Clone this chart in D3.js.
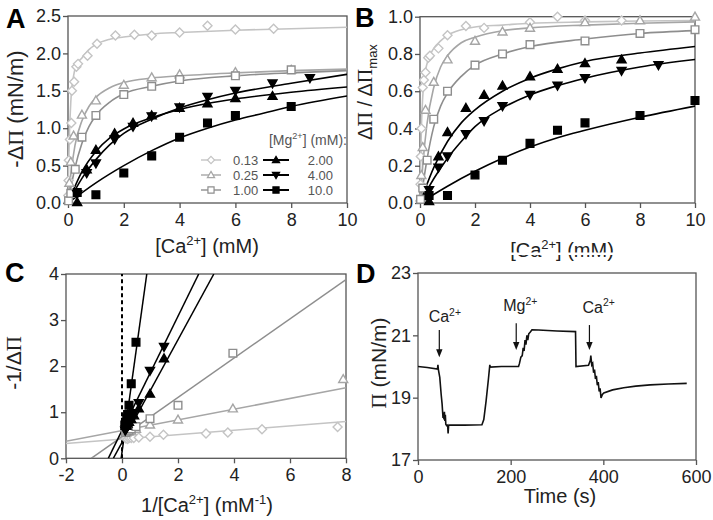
<!DOCTYPE html>
<html><head><meta charset="utf-8">
<script src="https://cdn.jsdelivr.net/npm/d3@7"></script>
<style>body{margin:0;background:#fff} text{font-family:"Liberation Sans",Arial,sans-serif;}</style>
</head><body><script>
// ---------- series definitions ----------
const seriesKeys   = ["0.13","0.25","1.00","2.00","4.00","10.0"];
const seriesColors = ["#c4c4c4","#a6a6a6","#8e8e8e","#000","#000","#000"];
const seriesShapes = ["diamond","triangle","square","triangle","triangleDown","square"];
const seriesFilled = [false,false,false,true,true,true];

// ---------- Panel A : -dPi vs [Ca] ----------
const a013 = [[0.01,0.1],[0.02,0.3],[0.03,0.57],[0.07,0.85],[0.12,1.07],[0.14,1.5],[0.22,1.62],[0.3,1.82],[0.36,1.86],[0.7,1.97],[1.04,2.13],[1.7,2.24],[2.38,2.25],[3.0,2.24],[4.0,2.28],[5.0,2.37],[6.0,2.32],[7.37,2.33]];
const a025 = [[0.02,0.05],[0.05,0.27],[0.1,0.55],[0.2,0.9],[0.5,1.18],[1.0,1.37],[2.0,1.58],[3.0,1.68],[4.0,1.72],[6.0,1.75],[8.0,1.78]];
const a100 = [[0.02,0.03],[0.1,0.13],[0.26,0.45],[0.5,0.88],[1.0,1.17],[2.0,1.45],[3.0,1.56],[4.0,1.65],[6.0,1.7],[8.0,1.78]];
const a200 = [[0.33,0.01],[0.67,0.45],[1.0,0.71],[1.67,0.93],[2.33,1.07],[3.0,1.17],[4.0,1.27],[5.0,1.33],[6.0,1.4],[7.33,1.43]];
const a400 = [[0.33,0.12],[0.67,0.4],[1.0,0.53],[1.67,0.85],[2.33,1.02],[3.0,1.16],[4.0,1.28],[5.0,1.42],[6.0,1.5],[7.33,1.6],[8.67,1.67]];
const a10  = [[0.33,0.14],[1.0,0.11],[2.0,0.4],[3.0,0.63],[4.0,0.88],[5.0,1.07],[6.0,1.17],[8.0,1.29]];
const aCurve013 = [[0,0],[0.02,0.45],[0.05,0.9],[0.1,1.35],[0.2,1.7],[0.3,1.84],[0.5,1.94],[0.75,2.05],[1,2.12],[1.5,2.19],[2,2.22],[3,2.26],[4,2.28],[6,2.31],[8,2.33],[10,2.35]];
const aCurve025 = [[0,0],[0.05,0.2],[0.1,0.38],[0.25,0.77],[0.5,1.1],[0.75,1.29],[1,1.41],[1.5,1.54],[2,1.61],[3,1.67],[4,1.7],[6,1.74],[8,1.77],[10,1.79]];
const aCurve100 = [[0,0],[0.1,0.2],[0.25,0.47],[0.5,0.8],[0.75,1.02],[1,1.17],[1.5,1.35],[2,1.46],[3,1.56],[4,1.63],[6,1.7],[8,1.74],[10,1.77]];
const aCurve200 = [[0,0],[0.5,0.42],[1,0.69],[1.5,0.87],[2,0.99],[3,1.14],[4,1.25],[5,1.33],[6,1.39],[8,1.48],[10,1.55]];
const aCurve400 = [[0,0],[0.5,0.33],[1,0.58],[1.5,0.78],[2,0.93],[3,1.12],[4,1.27],[5,1.38],[6,1.47],[8,1.6],[10,1.72]];
const aCurve10  = [[0,0],[1,0.27],[2,0.5],[3,0.7],[4,0.87],[5,1.0],[6,1.11],[7,1.2],[8,1.29],[10,1.43]];

// ---------- Panel B : normalised ----------
const b013 = [[0.02,0.1],[0.03,0.25],[0.05,0.4],[0.1,0.62],[0.14,0.66],[0.2,0.7],[0.3,0.78],[0.36,0.79],[0.67,0.83],[1.0,0.9],[1.67,0.95],[2.33,0.94],[4.0,0.97],[5.0,1.0],[6.0,0.98],[7.33,0.98]];
const b025 = [[0.02,0.03],[0.05,0.15],[0.1,0.3],[0.2,0.5],[0.5,0.65],[1.0,0.77],[2.0,0.87],[3.0,0.92],[4.0,0.94],[6.0,0.97],[8.0,0.98],[10.0,1.0]];
const b100 = [[0.02,0.02],[0.1,0.08],[0.26,0.23],[0.5,0.45],[1.0,0.6],[2.0,0.74],[3.0,0.8],[4.0,0.85],[6.0,0.87],[8.0,0.91],[10.0,0.93]];
const b200 = [[0.33,0.01],[0.67,0.25],[1.0,0.38],[1.67,0.51],[2.33,0.58],[3.0,0.63],[4.0,0.68],[5.0,0.72],[6.0,0.75],[7.33,0.77]];
const b400 = [[0.33,0.07],[0.67,0.19],[1.0,0.25],[1.67,0.37],[2.33,0.44],[3.0,0.52],[4.0,0.58],[5.0,0.63],[6.0,0.67],[7.33,0.71],[8.67,0.74]];
const b10  = [[0.33,0.04],[1.0,0.04],[2.0,0.15],[3.0,0.23],[4.0,0.32],[5.0,0.39],[6.0,0.43],[8.0,0.47],[10.0,0.55]];
const bCurve013 = [[0,0],[0.02,0.2],[0.05,0.4],[0.1,0.57],[0.2,0.71],[0.3,0.77],[0.5,0.83],[0.75,0.87],[1,0.9],[1.5,0.93],[2,0.945],[3,0.955],[4,0.965],[6,0.972],[8,0.977],[10,0.98]];
const bCurve025 = [[0,0],[0.05,0.1],[0.1,0.2],[0.25,0.42],[0.5,0.62],[0.75,0.73],[1,0.79],[1.5,0.86],[2,0.89],[3,0.925],[4,0.94],[6,0.955],[8,0.965],[10,0.972]];
const bCurve100 = [[0,0],[0.1,0.09],[0.25,0.23],[0.5,0.41],[0.75,0.52],[1,0.59],[1.5,0.68],[2,0.74],[3,0.8],[4,0.84],[6,0.88],[8,0.91],[10,0.925]];
const bCurve200 = [[0,0],[0.5,0.19],[1,0.33],[1.5,0.43],[2,0.5],[3,0.6],[4,0.67],[5,0.72],[6,0.76],[8,0.805],[10,0.84]];
const bCurve400 = [[0,0],[0.5,0.13],[1,0.24],[1.5,0.33],[2,0.41],[3,0.51],[4,0.58],[5,0.63],[6,0.67],[8,0.73],[10,0.77]];
const bCurve10  = [[0,0],[1,0.09],[2,0.17],[3,0.24],[4,0.3],[5,0.35],[6,0.39],[8,0.46],[10,0.52]];

// ---------- Panel C : double reciprocal ----------
const c013 = [[0.14,0.43],[0.2,0.42],[0.25,0.44],[0.33,0.44],[0.42,0.44],[0.6,0.45],[1.0,0.47],[1.48,0.51],[3.0,0.54],[3.78,0.56],[5.0,0.63],[7.7,0.68]];
const c025 = [[0.125,0.56],[0.17,0.57],[0.25,0.58],[0.33,0.6],[0.5,0.64],[1.0,0.73],[2.0,0.84],[3.96,1.08],[7.9,1.72]];
const c100 = [[0.125,0.56],[0.17,0.59],[0.25,0.61],[0.33,0.64],[0.5,0.69],[1.0,0.86],[2.0,1.15],[3.96,2.28]];
const c200 = [[0.136,0.7],[0.17,0.71],[0.2,0.75],[0.25,0.79],[0.33,0.85],[0.43,0.93],[0.6,1.08],[1.0,1.4],[1.5,2.17]];
const c400 = [[0.115,0.6],[0.136,0.63],[0.17,0.66],[0.2,0.7],[0.25,0.78],[0.33,0.86],[0.43,0.98],[0.6,1.2],[1.0,1.9],[1.5,2.42]];
const c10  = [[0.1,0.72],[0.125,0.78],[0.17,0.87],[0.2,0.95],[0.25,1.15],[0.33,1.62],[0.5,2.52]];
const cLine013 = [[-2,0.32],[8,0.8]];
const cLine025 = [[-2,0.37],[8,1.53]];
const cLine100 = [[-1.1,0],[8,3.88]];
const cLine200 = [[-0.31,0],[3.28,4]];
const cLine400 = [[-0.49,0],[2.74,4]];
const cLine10  = [[-0.03,0],[0.885,4]];

// ---------- Panel D : time trace ----------
const traceD = [[0,20.0],[20,19.97],[42,19.92],[43,20.05],[44,19.9],[47,19.65],[50,19.1],[52,18.8],[54,18.35],[55,18.5],[56,18.3],[57,18.55],[58,18.25],[59,18.45],[60,18.15],[62,18.1],[64,18.12],[65,17.85],[66,18.1],[68,18.12],[100,18.12],[138,18.13],[142,18.3],[147,18.9],[152,19.6],[155,20.05],[156,19.98],[180,20.0],[217,20.0],[219,20.1],[222,20.3],[225,20.35],[227,20.6],[229,20.5],[231,20.85],[233,20.7],[235,21.0],[237,20.85],[239,21.05],[242,21.1],[246,21.18],[260,21.17],[300,21.14],[340,21.12],[341,20.0],[368,20.04],[372,20.2],[373,20.35],[375,20.05],[377,20.1],[379,19.8],[381,19.9],[383,19.6],[385,19.7],[387,19.4],[389,19.5],[391,19.2],[393,19.3],[395,18.99],[398,19.1],[401,19.15],[420,19.25],[444,19.32],[470,19.37],[501,19.41],[540,19.44],[580,19.46]];
const dArrowT    = [46, 212, 370];
const dArrowTop  = [21.17, 21.39, 21.33];
const dArrowBot  = [20.3, 20.53, 20.53];
const dLabelIon  = ["Ca", "Mg", "Ca"];
const dLabelT    = [23, 184, 355];
const dLabelY    = [21.42, 21.77, 21.72];

// ---------- tick values ----------
const ticksCaX = [0,2,4,6,8,10];
const ticksAY = [0,0.5,1.0,1.5,2.0,2.5];
const ticksBY = [0,0.2,0.4,0.6,0.8,1.0];
const ticksCX = [-2,0,2,4,6,8];
const ticksCY = [0,1,2,3,4];
const ticksDX = [0,200,400,600];
const ticksDY = [17,19,21,23];

// ================= drawing =================
const svg = d3.select("body").append("svg").attr("width",713).attr("height",520);
const axisColor = "#555", textColor = "#222";
const intFmt = d => String(d);   // plain hyphen for negatives, as in the figure
let clipN = 0;

function styleAxis(g){
  g.select(".domain").remove();
  g.selectAll(".tick line").attr("stroke",axisColor).attr("stroke-width",1.3);
  g.selectAll(".tick text").attr("fill",textColor).style("font-size","18px");
}
function makePanel(box, xd, yd, xt, yt, xf, yf){
  const x = d3.scaleLinear().domain(xd).range([box.l, box.r]);
  const y = d3.scaleLinear().domain(yd).range([box.b, box.t]);
  const g = svg.append("g");
  g.append("g").attr("transform",`translate(0,${box.b})`)
    .call(d3.axisBottom(x).tickValues(xt).tickFormat(xf).tickSize(5).tickSizeOuter(0).tickPadding(5)).call(styleAxis);
  g.append("g").attr("transform",`translate(${box.l},0)`)
    .call(d3.axisLeft(y).tickValues(yt).tickFormat(yf).tickSize(5).tickSizeOuter(0).tickPadding(2)).call(styleAxis);
  g.append("rect").attr("x",box.l).attr("y",box.t).attr("width",box.r-box.l).attr("height",box.b-box.t)
    .attr("fill","none").attr("stroke",axisColor).attr("stroke-width",1.3);
  const id = "clip"+(clipN++);
  svg.append("clipPath").attr("id",id).append("rect").attr("x",box.l).attr("y",box.t).attr("width",box.r-box.l).attr("height",box.b-box.t);
  const lines = g.append("g").attr("clip-path",`url(#${id})`);
  const marks = g.append("g");
  return {x,y,g,lines,marks};
}
function shapePath(type, r){
  switch(type){
    case "diamond": return `M0,${-r}L${r},0L0,${r}L${-r},0Z`;
    case "square": { const s=r*0.85; return `M${-s},${-s}H${s}V${s}H${-s}Z`; }
    case "triangle": return `M0,${-r}L${r},${r*0.75}L${-r},${r*0.75}Z`;
    case "triangleDown": return `M0,${r}L${r},${-r*0.75}L${-r},${-r*0.75}Z`;
  }
}
function drawPoints(p, data, i, r){
  p.marks.selectAll(null).data(data).enter().append("path")
    .attr("transform",d=>`translate(${p.x(d[0])},${p.y(d[1])})`)
    .attr("d",shapePath(seriesShapes[i], r))
    .attr("fill",seriesFilled[i] ? seriesColors[i] : "#fff")
    .attr("stroke",seriesColors[i]).attr("stroke-width",1.4);
}
function drawCurve(p, data, i){
  const line = d3.line().x(d=>p.x(d[0])).y(d=>p.y(d[1])).curve(d3.curveMonotoneX);
  p.lines.append("path").datum(data).attr("d",line).attr("fill","none")
    .attr("stroke",seriesColors[i]).attr("stroke-width",1.6);
}
function richText(parent, parts, fs, attrs){
  const t = parent.append("text").style("font-size",fs+"px").attr("fill",textColor);
  Object.entries(attrs||{}).forEach(([k,v])=>t.attr(k,v));
  let shift = 0;
  parts.forEach(pt=>{
    const s = t.append("tspan").text(pt.t);
    let target = 0;
    if(pt.s==="sup"){ s.style("font-size",(fs*0.65)+"px"); target = -0.42*fs; }
    else if(pt.s==="sub"){ s.style("font-size",(fs*0.65)+"px"); target = 0.25*fs; }
    if(pt.serif) s.style("font-family","'Liberation Serif','Times New Roman',serif");
    s.attr("dy", target - shift); shift = target;
  });
  return t;
}

// ---------- Panel A ----------
const pA = makePanel({l:68,r:347,t:16,b:203},[0,10],[0,2.5],ticksCaX,ticksAY,intFmt,d3.format(".1f"));
[aCurve013,aCurve025,aCurve100,aCurve200,aCurve400,aCurve10].forEach((c,i)=>drawCurve(pA,c,i));
[a013,a025,a100,a200,a400,a10].forEach((d,i)=>drawPoints(pA,d,i,4.5));
// legend
const lg = svg.append("g");
richText(lg,[{t:"[Mg"},{t:"2+",s:"sup"},{t:"] (mM):"}],14,{x:347,y:145,"text-anchor":"end"}).attr("fill","#555");
seriesKeys.forEach((k,i)=>{
  const col = i<3 ? 0 : 1, row = i%3;
  const cy = 160 + row*15;
  const x0 = col===0 ? 201 : 263, x1 = col===0 ? 221 : 289;
  lg.append("line").attr("x1",x0).attr("x2",x1).attr("y1",cy).attr("y2",cy)
    .attr("stroke",seriesColors[i]).attr("stroke-width",col===0?1.4:2);
  lg.append("path").attr("transform",`translate(${(x0+x1)/2},${cy})`).attr("d",shapePath(seriesShapes[i],3.6))
    .attr("fill",seriesFilled[i]?seriesColors[i]:"#fff").attr("stroke",seriesColors[i]).attr("stroke-width",1.2);
  lg.append("text").attr("x",col===0?233:333).attr("y",cy+5).attr("text-anchor",col===0?"start":"end")
    .style("font-size","13px").attr("fill","#555").text(k);
});

// ---------- Panel B ----------
const pB = makePanel({l:420,r:695,t:16.7,b:203},[0,10],[0,1.0],ticksCaX,ticksBY,intFmt,d3.format(".1f"));
[bCurve013,bCurve025,bCurve100,bCurve200,bCurve400,bCurve10].forEach((c,i)=>drawCurve(pB,c,i));
[b013,b025,b100,b200,b400,b10].forEach((d,i)=>drawPoints(pB,d,i,4.5));

// ---------- Panel C ----------
const pC = makePanel({l:66,r:346,t:274,b:458.3},[-2,8],[0,4],ticksCX,ticksCY,intFmt,intFmt);
[cLine013,cLine025,cLine100,cLine200,cLine400,cLine10].forEach((c,i)=>{
  pC.lines.append("line").attr("x1",pC.x(c[0][0])).attr("y1",pC.y(c[0][1])).attr("x2",pC.x(c[1][0])).attr("y2",pC.y(c[1][1]))
    .attr("stroke",seriesColors[i]).attr("stroke-width",1.5);
});
pC.lines.append("line").attr("x1",pC.x(0)).attr("x2",pC.x(0)).attr("y1",pC.y(0)).attr("y2",pC.y(4))
  .attr("stroke","#000").attr("stroke-width",2).attr("stroke-dasharray","4,3");
[c013,c025,c100,c200,c400,c10].forEach((d,i)=>drawPoints(pC,d,i,4.5));

// ---------- Panel D ----------
const pD = makePanel({l:418,r:696,t:273,b:460},[0,600],[17,23],ticksDX,ticksDY,intFmt,intFmt);
pD.lines.append("path").datum(traceD).attr("d",d3.line().x(d=>pD.x(d[0])).y(d=>pD.y(d[1])))
  .attr("fill","none").attr("stroke","#111").attr("stroke-width",1.6);
dArrowT.forEach((t,i)=>{
  const x = pD.x(t), y1 = pD.y(dArrowTop[i]), y2 = pD.y(dArrowBot[i]);
  pD.g.append("line").attr("x1",x).attr("x2",x).attr("y1",y1).attr("y2",y2-6).attr("stroke","#111").attr("stroke-width",1.2);
  pD.g.append("path").attr("d",`M${x-3.2},${y2-8}L${x+3.2},${y2-8}L${x},${y2}Z`).attr("fill","#111");
  richText(pD.g,[{t:dLabelIon[i]},{t:"2+",s:"sup"}],16,{x:pD.x(dLabelT[i]),y:pD.y(dLabelY[i])});
});

// ---------- axis titles ----------
richText(svg,[{t:"[Ca"},{t:"2+",s:"sup"},{t:"] (mM)"}],20,{x:207,y:253,"text-anchor":"middle"});
richText(svg,[{t:"[Ca"},{t:"2+",s:"sup"},{t:"] (mM)"}],20,{x:562,y:257,"text-anchor":"middle"});
svg.append("rect").attr("x",480).attr("y",252.5).attr("width",170).attr("height",2.5).attr("fill","#fff");
richText(svg,[{t:"1/[Ca"},{t:"2+",s:"sup"},{t:"] (mM"},{t:"-1",s:"sup"},{t:")"}],20,{x:207,y:512,"text-anchor":"middle"});
richText(svg,[{t:"Time (s)"}],20,{x:560,y:503,"text-anchor":"middle"});
richText(svg,[{t:"-Δ"},{t:"Π",serif:true},{t:" (mN/m)"}],22,{"text-anchor":"middle",transform:"translate(23,109) rotate(-90)"});
richText(svg,[{t:"Δ"},{t:"Π",serif:true},{t:" / Δ"},{t:"Π",serif:true},{t:"max",s:"sub"}],20,{"text-anchor":"middle",transform:"translate(372,92) rotate(-90)"});
richText(svg,[{t:"-1/Δ"},{t:"Π",serif:true}],21,{"text-anchor":"middle",transform:"translate(21,363) rotate(-90)"});
richText(svg,[{t:"Π",serif:true},{t:" (mN/m)"}],21,{"text-anchor":"middle",transform:"translate(386,363) rotate(-90)"});

// ---------- panel letters ----------
const panelLetters = ["A","B","C","D"];
const letterPos = [[6,28],[355,27],[5,282],[356,283]];
panelLetters.forEach((L,i)=>svg.append("text").attr("x",letterPos[i][0]).attr("y",letterPos[i][1])
  .style("font-size","27px").style("font-weight","bold").attr("fill","#000").text(L));
</script></body></html>
